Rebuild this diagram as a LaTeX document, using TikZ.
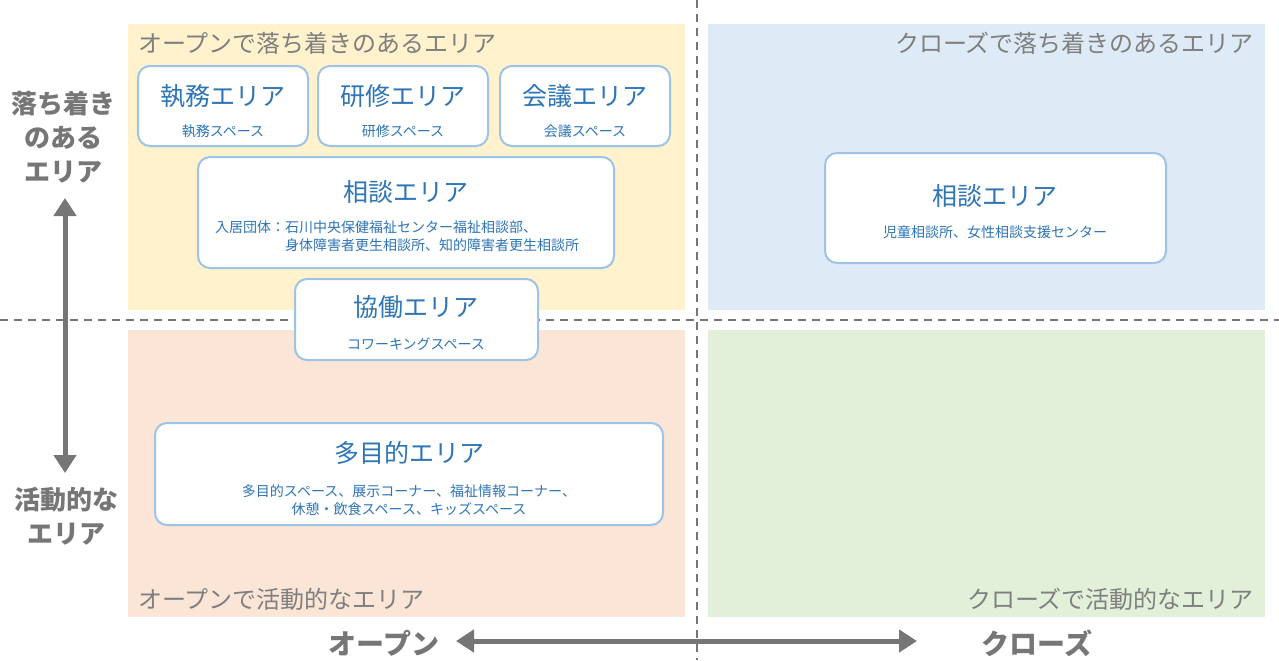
\documentclass[tikz,border=0pt]{standalone}
\usepackage{fontspec}
\setmainfont{Noto Sans CJK JP}
\usetikzlibrary{arrows.meta}

\definecolor{openquiet}{HTML}{FFF2CC}
\definecolor{closequiet}{HTML}{DEEBF7}
\definecolor{openactive}{HTML}{FBE5D6}
\definecolor{closeactive}{HTML}{E2F0D9}
\definecolor{arealine}{HTML}{9DC3E6}
\definecolor{areatext}{HTML}{2E75B6}
\definecolor{greytext}{HTML}{7F7F7F}
\definecolor{axisgrey}{HTML}{767676}

\begin{document}
\begin{tikzpicture}[x=0.5pt,y=-0.5pt,
    area/.style={draw=arealine, line width=1pt, fill=white, rounded corners=6pt},
    ttl/.style={text=areatext, font=\fontsize{12.5}{14}\selectfont},
    sub/.style={text=areatext, font=\fontsize{7}{9}\selectfont},
    quad/.style={text=greytext, font=\fontsize{12}{14}\selectfont},
    axislabel/.style={text=axisgrey, font=\bfseries\fontsize{13}{17}\selectfont, align=center},
    axisarrow/.style={draw=axisgrey, line width=2.5pt, {Triangle[length=9pt,width=11pt]}-{Triangle[length=9pt,width=11pt]}},
    divider/.style={draw=axisgrey, line width=1pt, dash pattern=on 4pt off 3pt}]
                \useasboundingbox (0,0) rectangle (1279,660);

                % quadrants
                \fill[openquiet] (128,24) rectangle (685,310);
                \fill[closequiet] (708,24) rectangle (1265,310);
                \fill[openactive] (128,330) rectangle (685,617);
                \fill[closeactive] (708,330) rectangle (1265,617);

                \node[quad, anchor=west] (q1) at (131,43) {オープンで落ち着きのあるエリア};
                \node[quad, anchor=east] (q2) at (1261,43) {クローズで落ち着きのあるエリア};
                \node[quad, anchor=west] (q3) at (131,599) {オープンで活動的なエリア};
                \node[quad, anchor=east] (q4) at (1261,599) {クローズで活動的なエリア};

                % axes
                \node[axislabel] (quiet) at (63,137) {落ち着き\\のある\\エリア};
                \node[axislabel] (active) at (66,516) {活動的な\\エリア};
                \node[axislabel, font=\bfseries\fontsize{14}{17}\selectfont] (open) at (384,643) {オープン};
                \node[axislabel, font=\bfseries\fontsize{14}{17}\selectfont] (close) at (1037,643) {クローズ};

                \coordinate (vtop) at (65,198);
                \coordinate (vbot) at (65,473);
                \coordinate (hleft) at (456,641);
                \coordinate (hright) at (917,641);
                \draw[axisarrow] (vtop) -- (vbot);
                \draw[axisarrow] (hleft) -- (hright);

                \draw[divider] (0,320) -- (1279,320);
                \draw[divider] (697,0) -- (697,660);

                % areas
                \node[area, minimum width=85pt, minimum height=40pt] (1) at (223,106) {};
                \node[area, minimum width=85pt, minimum height=40pt] (2) at (403,106) {};
                \node[area, minimum width=85pt, minimum height=40pt] (3) at (585,106) {};
                \node[area, minimum width=208pt, minimum height=55.5pt] (4) at (406,212.5) {};
                \node[area, minimum width=121.5pt, minimum height=40.5pt] (5) at (416.5,319.5) {};
                \node[area, minimum width=254pt, minimum height=51pt] (6) at (409,474) {};
                \node[area, minimum width=170.5pt, minimum height=55pt] (7) at (995.5,208) {};

                \node[ttl] (1t) at (223,96) {執務エリア};
                \node[sub] (1s) at (223,131) {執務スペース};
                \node[ttl] (2t) at (403,96) {研修エリア};
                \node[sub] (2s) at (403,131) {研修スペース};
                \node[ttl] (3t) at (585,96) {会議エリア};
                \node[sub] (3s) at (585,131) {会議スペース};

                \node[ttl] (4t) at (406,192) {相談エリア};
                \node[sub, anchor=west, align=left] (4s) at (208,236) {入居団体：石川中央保健福祉センター福祉相談部、\\\phantom{入居団体：}身体障害者更生相談所、知的障害者更生相談所};

                \node[ttl] (5t) at (416,307) {協働エリア};
                \node[sub] (5s) at (416,344) {コワーキングスペース};

                \node[ttl] (6t) at (409,453) {多目的エリア};
                \node[sub, align=center] (6s) at (409,500) {多目的スペース、展示コーナー、福祉情報コーナー、\\休憩・飲食スペース、キッズスペース};

                \node[ttl] (7t) at (995,196) {相談エリア};
                \node[sub] (7s) at (995,232) {児童相談所、女性相談支援センター};
            \end{tikzpicture}
\end{document}
